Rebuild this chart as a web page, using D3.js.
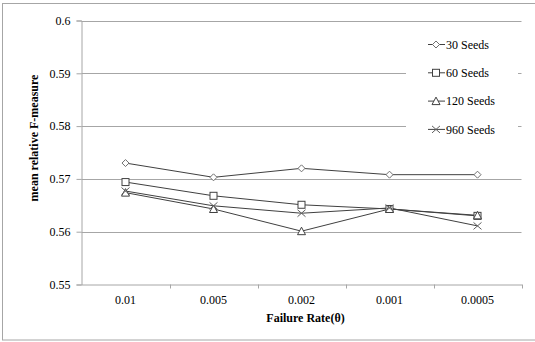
<!DOCTYPE html>
<html>
<head>
<meta charset="utf-8">
<script src="https://cdn.jsdelivr.net/npm/d3@7"></script>
<style>
  body { margin: 0; background: #fff; }
</style>
</head>
<body>
<div id="chart"></div>
<script>
// categories and series
var rates = ["0.01", "0.005", "0.002", "0.001", "0.0005"];
var seeds30  = [0.5730, 0.5703, 0.5720, 0.5708, 0.5708];
var seeds60  = [0.5694, 0.5668, 0.5651, 0.5643, 0.5630];
var seeds120 = [0.5674, 0.5643, 0.5601, 0.5643, 0.5631];
var seeds960 = [0.5677, 0.5649, 0.5635, 0.5645, 0.5611];
var yTicks = [0.55, 0.56, 0.57, 0.58, 0.59, 0.6];

var series = [
  {name: "30 Seeds",  values: seeds30,  marker: "diamond"},
  {name: "60 Seeds",  values: seeds60,  marker: "square"},
  {name: "120 Seeds", values: seeds120, marker: "triangle"},
  {name: "960 Seeds", values: seeds960, marker: "cross"}
];

var W = 535, H = 342;
var plot = {left: 81.5, right: 521.5, top: 20.5, bottom: 284.5};
var gridColor = "#a6a6a6", lineColor = "#404040";
var serif = "Liberation Serif, DejaVu Serif, Times New Roman, serif";

var svg = d3.select("#chart").append("svg")
  .attr("width", W)
  .attr("height", H)
  .style("font-family", serif);

// outer frame
svg.append("rect")
  .attr("x", 2.5).attr("y", 3.5)
  .attr("width", W + 10).attr("height", 336.5)
  .attr("fill", "#fff")
  .attr("stroke", gridColor);

var x = d3.scaleBand().domain(rates).range([plot.left, plot.right]);
var y = d3.scaleLinear().domain([0.55, 0.6]).range([plot.bottom, plot.top]);
var cx = function(i) { return x(rates[i]) + x.bandwidth() / 2; };

// gridlines
svg.append("g").selectAll("line")
  .data(yTicks.slice(1))
  .enter().append("line")
  .attr("x1", plot.left).attr("x2", plot.right)
  .attr("y1", function(d) { return Math.round(y(d)) + 0.5; })
  .attr("y2", function(d) { return Math.round(y(d)) + 0.5; })
  .attr("stroke", gridColor);

// y axis
var yAxis = svg.append("g")
  .attr("transform", "translate(" + plot.left + ",0)")
  .call(d3.axisLeft(y).tickValues(yTicks).tickSize(5).tickPadding(6)
    .tickFormat(function(d) { return String(+d.toFixed(2)); }));
yAxis.attr("font-family", null).attr("font-size", 12);
yAxis.select(".domain").attr("stroke", gridColor);
yAxis.selectAll(".tick line").attr("stroke", gridColor);
yAxis.selectAll("text").attr("fill", "#000").style("font-family", serif);

// x axis, ticks at band edges
var xAxis = svg.append("g")
  .attr("transform", "translate(0," + plot.bottom + ")")
  .call(d3.axisBottom(x).tickSize(0).tickPadding(11));
xAxis.attr("font-family", null).attr("font-size", 12);
xAxis.select(".domain").attr("stroke", gridColor);
xAxis.selectAll("text").attr("fill", "#000").style("font-family", serif);
svg.append("g").selectAll("line")
  .data(rates)
  .enter().append("line")
  .attr("x1", function(d) { return Math.round(x(d) + x.bandwidth()) + 0.5; })
  .attr("x2", function(d) { return Math.round(x(d) + x.bandwidth()) + 0.5; })
  .attr("y1", plot.bottom).attr("y2", plot.bottom + 4)
  .attr("stroke", gridColor);

// axis titles
svg.append("text")
  .attr("x", (plot.left + plot.right) / 2 + 4)
  .attr("y", 322)
  .attr("text-anchor", "middle")
  .style("font-family", serif)
  .attr("font-size", 12).attr("font-weight", "bold")
  .text("Failure Rate(θ)");

svg.append("text")
  .attr("transform", "translate(38,138)rotate(-90)")
  .attr("text-anchor", "middle")
  .style("font-family", serif)
  .attr("font-size", 12).attr("font-weight", "bold")
  .text("mean relative F-measure");

// marker shapes
function drawMarker(g, type) {
  if (type === "diamond") {
    g.append("path").attr("d", "M0,-3.5L3.5,0L0,3.5L-3.5,0Z")
      .attr("fill", "#fff").attr("stroke", "#707070");
  } else if (type === "square") {
    g.append("rect").attr("x", -3.5).attr("y", -3.5).attr("width", 7).attr("height", 7)
      .attr("fill", "#fff").attr("stroke", lineColor);
  } else if (type === "triangle") {
    g.append("path").attr("d", "M0,-4L4,3.5L-4,3.5Z")
      .attr("fill", "#fff").attr("stroke", lineColor);
  } else {
    g.append("path").attr("d", "M-4,-3.5L4,3.5M-4,3.5L4,-3.5")
      .attr("fill", "none").attr("stroke", "#606060");
  }
}

var line = d3.line()
  .x(function(d, i) { return cx(i); })
  .y(function(d) { return y(d); });

// legend backing hides gridlines
svg.append("rect")
  .attr("x", 406).attr("y", 30)
  .attr("width", 112).attr("height", 112)
  .attr("fill", "#fff");

series.forEach(function(s) {
  svg.append("path")
    .datum(s.values)
    .attr("d", line)
    .attr("fill", "none")
    .attr("stroke", lineColor)
    .attr("stroke-width", 1);
});

series.forEach(function(s) {
  s.values.forEach(function(v, i) {
    var g = svg.append("g").attr("transform", "translate(" + cx(i) + "," + y(v) + ")");
    drawMarker(g, s.marker);
  });
});

// legend
var legend = svg.append("g").selectAll("g")
  .data(series)
  .enter().append("g")
  .attr("transform", function(d, i) { return "translate(436," + (44.5 + i * 28.3) + ")"; });

legend.append("line")
  .attr("x1", -8).attr("x2", 9)
  .attr("stroke", lineColor);
legend.each(function(d) { drawMarker(d3.select(this), d.marker); });
legend.append("text")
  .attr("x", 10).attr("dy", "0.35em")
  .style("font-family", serif)
  .attr("font-size", 12)
  .text(function(d) { return d.name; });
</script>
</body>
</html>
